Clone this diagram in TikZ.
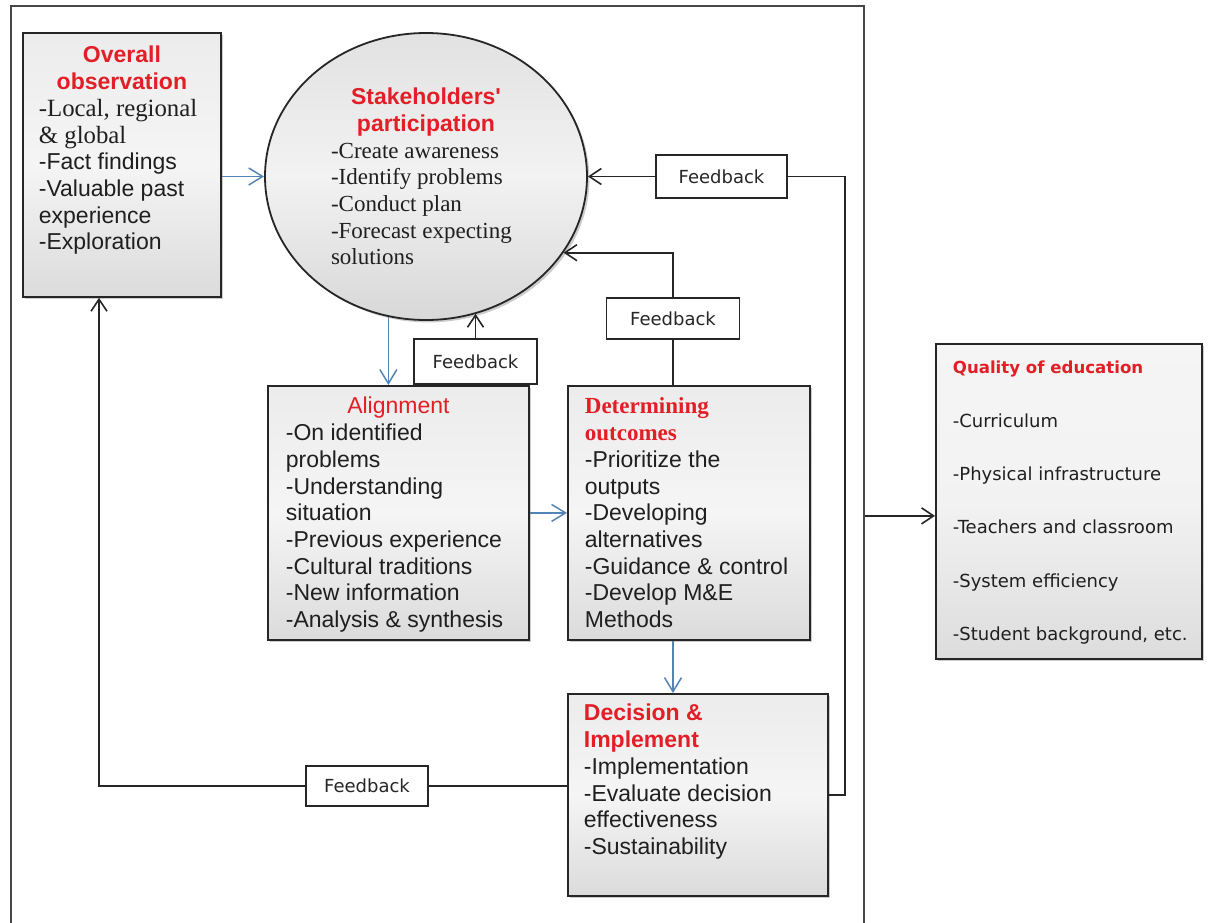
\documentclass[tikz,border=0pt]{standalone}
\usepackage{fontspec}
\setmainfont{Liberation Serif}
\newfontfamily\arialfont{Liberation Sans}
\newfontfamily\tahomafont{DejaVu Sans}
\usetikzlibrary{arrows.meta,shadows,shapes.geometric,calc}

\definecolor{titlered}{RGB}{226,30,38}
\definecolor{linkblue}{RGB}{84,132,182}
\definecolor{edgegray}{RGB}{38,38,38}

% text block of a box: width, height, left padding, first baseline, content
\newcommand\panelbody[5]{%
  \begin{minipage}[t][#2][t]{#1}%
    \leftskip=#3\relax\rightskip=0pt plus 1fil\relax
    \rule{0pt}{#4}#5%
  \end{minipage}}

\tikzset{
  panel/.style={draw=edgegray, line width=0.9pt, inner sep=0pt,
    top color=gray!15, bottom color=gray!28, middle color=gray!8,
    drop shadow={shadow xshift=1.2pt, shadow yshift=-1.2pt, opacity=0.2, fill=black},
    font=\arialfont\fontsize{11.5}{13.35}\selectfont, text=black!88},
  qpanel/.style={panel, top color=gray!8, bottom color=gray!27, middle color=gray!10,
    font=\tahomafont\fontsize{9}{26.65}\selectfont},
  bubble/.style={ellipse, draw=edgegray, line width=0.9pt, inner sep=0pt,
    minimum width=161pt, minimum height=143.5pt,
    top color=gray!23, bottom color=gray!31, middle color=gray!10,
    drop shadow={shadow xshift=1.2pt, shadow yshift=-1.2pt, opacity=0.2, fill=black},
    font=\arialfont\fontsize{11.5}{13.35}\selectfont, text=black!88},
  fbbox/.style={draw=edgegray, line width=0.8pt, fill=white, inner sep=0pt,
    font=\tahomafont\fontsize{9}{10}\selectfont, text=black!85},
  outerframe/.style={draw=black!72, line width=1pt, inner sep=0pt},
  link/.style={draw=edgegray, line width=0.8pt},
  fblink/.style={link, -{Straight Barb[length=6pt,width=8pt]}},
  bluelink/.style={draw=linkblue, line width=0.75pt, -{Straight Barb[length=7pt,width=8.5pt]}}
}

\begin{document}
\begin{tikzpicture}[x=0.5pt,y=-0.5pt]
\useasboundingbox (0,0) rectangle (1216,922);

% outer frame of the framework (its lower edge runs below the page)
\node[outerframe, anchor=north west, minimum width=426.5pt, minimum height=460pt] (frame) at (10,5) {};

% boxes
\node[panel, anchor=north west] (obs) at (22,32) {\panelbody{99pt}{132pt}{8pt}{15pt}{%
  {\centering\color{titlered}\bfseries Overall\\observation\par}%
  {\rmfamily\fontsize{12.4}{13.35}\selectfont -Local, regional\\\& global}\\
  -Fact findings\\-Valuable past\\experience\\-Exploration}};

\node[bubble] (stake) at (426,176.5) {\begin{minipage}{95pt}%
  {\centering\color{titlered}\bfseries Stakeholders'\\participation\par}%
  {\rmfamily -Create awareness\\-Identify problems\\-Conduct plan\\-Forecast expecting\\solutions\par}%
  \end{minipage}};

\node[panel, anchor=north west] (align) at (267,385) {\panelbody{130.5pt}{127pt}{9pt}{14pt}{%
  {\centering\color{titlered}Alignment\par}%
  -On identified\\problems\\-Understanding\\situation\\-Previous experience\\-Cultural traditions\\-New information\\-Analysis \& synthesis}};

\node[panel, anchor=north west] (det) at (567,385) {\panelbody{121pt}{127pt}{8.5pt}{14pt}{%
  {\rmfamily\bfseries\color{titlered}Determining\\outcomes}\\
  -Prioritize the\\outputs\\-Developing\\alternatives\\-Guidance \& control\\-Develop M\&E\\Methods}};

\node[panel, anchor=north west] (dec) at (567,693) {\panelbody{130pt}{101pt}{8pt}{13.5pt}{%
  {\bfseries\color{titlered}Decision \&\\Implement}\\
  -Implementation\\-Evaluate decision\\effectiveness\\-Sustainability}};

\node[qpanel, anchor=north west] (qual) at (935,343) {\panelbody{133pt}{157.5pt}{8.5pt}{15pt}{%
  {\fontsize{8.3}{26.65}\selectfont\bfseries\color{titlered}Quality of education}\\
  -Curriculum\\-Physical infrastructure\\-Teachers and classroom\\-System efficiency\\-Student background, etc.}};

% feedback labels
\node[fbbox, minimum width=65.5pt, minimum height=21.5pt] (fbA) at (721.5,176.5) {Feedback};
\node[fbbox, minimum width=66.5pt, minimum height=20.5pt] (fbB) at (673,318.5) {Feedback};
\node[fbbox, minimum width=61.5pt, minimum height=22.5pt] (fbC) at (475.5,361.5) {Feedback};
\node[fbbox, minimum width=61pt, minimum height=20pt] (fbD) at (367,786) {Feedback};

% bends of the long feedback loops
\coordinate (rside) at (845,176.5);
\coordinate (lside) at (99,786);
\coordinate (qin) at ([yshift=-7.25pt]qual.west);

% main flow
\draw[bluelink] (obs.east |- stake.west) -- (stake.west);
\draw[bluelink] (stake.255) -- (stake.255 |- align.north);
\draw[bluelink] (align.east) -- (det.west);
\draw[bluelink] (det.south -| fbB.south) -- (dec.north -| fbB.south);

% feedback loops
\draw[fblink] (fbC.north) -- (fbC.north |- stake.290);
\draw[link] (det.north -| fbB.south) -- (fbB.south);
\draw[fblink] (fbB.north) |- (stake.331);
\draw[link] (dec.east) -| (rside) -- (fbA.east |- rside);
\draw[fblink] (fbA.west |- rside) -- (stake.east);
\draw[link] (dec.west |- fbD.east) -- (fbD.east);
\draw[fblink] (fbD.west) -- (lside) -- (lside |- obs.south);

% outcome
\draw[fblink] (frame.east |- qin) -- (qin);
\end{tikzpicture}
\end{document}
